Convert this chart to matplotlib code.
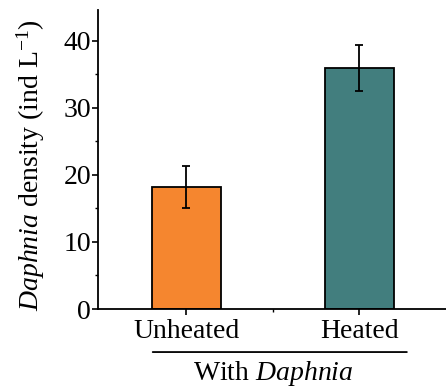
import matplotlib
matplotlib.use("Agg")
import matplotlib.pyplot as plt
from matplotlib.ticker import MultipleLocator, FixedLocator

categories = ["Unheated", "Heated"]
means = [18.2, 36.0]
errors = [3.2, 3.4]
colors = ["#F5862F", "#427E7E"]
yticks = [0, 10, 20, 30, 40]

plt.rcParams["font.family"] = ["Liberation Serif", "DejaVu Serif"]
plt.rcParams["mathtext.fontset"] = "custom"
plt.rcParams["mathtext.rm"] = "Liberation Serif"
plt.rcParams["mathtext.it"] = "Liberation Serif:italic"

fig = plt.figure(figsize=(4.46, 3.88), dpi=100)
ax = fig.add_axes([0.2197, 0.2036, 0.7803, 0.7704])

x = list(range(len(categories)))
ax.bar(x, means, width=0.4, color=colors, edgecolor="black", linewidth=1.3, zorder=2)
ax.errorbar(x, means, yerr=errors, fmt="none", ecolor="black", elinewidth=1.3,
            capsize=3, capthick=1.3, zorder=3)

ax.set_xlim(-0.51, 1.5)
ax.set_ylim(0, 44.6)
ax.set_yticks(yticks)
ax.yaxis.set_minor_locator(MultipleLocator(5))
ax.set_xticks(x)
ax.set_xticklabels(categories)
ax.xaxis.set_minor_locator(FixedLocator([0.5]))

for s in ["top", "right"]:
    ax.spines[s].set_visible(False)
for s in ["left", "bottom"]:
    ax.spines[s].set_linewidth(1.3)

ax.tick_params(axis="both", which="major", direction="out", length=4, width=1.2,
               labelsize=20, pad=1)
ax.tick_params(axis="both", which="minor", direction="out", length=2.5, width=1.0)
ax.tick_params(axis="x", which="major", pad=3)

ax.set_ylabel(r"$\it{Daphnia}$ density (ind L$^{-1}$)", fontsize=20)
ax.yaxis.set_label_coords(-0.147, 0.48)

# group line and label
ax.annotate("", xy=(-0.21, -0.144), xytext=(1.29, -0.144), xycoords=("data", "axes fraction"),
            textcoords=("data", "axes fraction"),
            arrowprops=dict(arrowstyle="-", color="black", lw=1.3))
ax.text(0.5, -0.236, r"With $\it{Daphnia}$", transform=ax.get_xaxis_transform(),
        ha="center", va="baseline", fontsize=20)

fig.savefig("out.png", dpi=100)
